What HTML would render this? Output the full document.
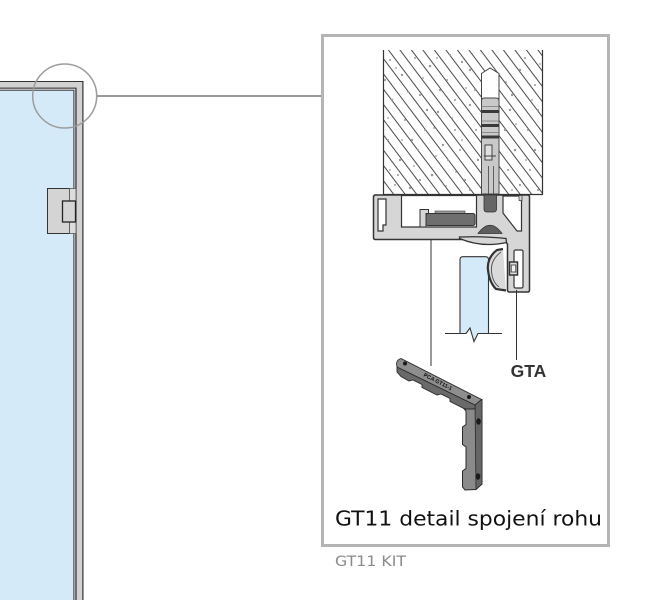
<!DOCTYPE html>
<html><head><meta charset="utf-8">
<style>
html,body{margin:0;padding:0;background:#fff;}
svg{display:block;}
</style></head><body>
<svg width="649" height="600" viewBox="0 0 649 600" xmlns="http://www.w3.org/2000/svg">
<defs>
<pattern id="hatch" width="11.5" height="11.5" patternUnits="userSpaceOnUse" patternTransform="skewX(37)">
<line x1="5.75" y1="-1" x2="5.75" y2="12.5" stroke="#262626" stroke-width="1.05"/>
</pattern>
</defs>

<!-- Door / glass panel on the left -->
<rect x="-10" y="81" width="93.5" height="530" fill="#333"/>
<rect x="-10" y="82" width="92.3" height="530" fill="#d2d2d2"/>
<rect x="-10" y="87.6" width="86.6" height="530" fill="#333"/>
<rect x="-10" y="88.7" width="85.3" height="530" fill="#f2f2f2"/>
<rect x="-10" y="89.7" width="84.4" height="530" fill="#333"/>
<rect x="-10" y="90.7" width="83.4" height="530" fill="#d5eaf9"/>

<!-- Hinge -->
<rect x="47.5" y="188.5" width="22" height="45" fill="#d4d4d4" stroke="#333" stroke-width="1"/>
<rect x="69.5" y="188.5" width="6.5" height="45" fill="#dcdcdc" stroke="#555" stroke-width="0.8"/>
<rect x="62.5" y="201" width="13" height="21" fill="#d4d4d4" stroke="#222" stroke-width="1.3"/>

<!-- Callout circle + connector -->
<circle cx="64.7" cy="96" r="32" fill="none" stroke="#9c9c9c" stroke-width="1.5"/>
<line x1="96.7" y1="96" x2="322" y2="96" stroke="#999" stroke-width="2"/>

<!-- Detail box -->
<rect x="322.5" y="35.5" width="286" height="510" fill="#fff" stroke="#b5b5b5" stroke-width="3"/>

<!-- Concrete block -->
<rect x="383" y="50" width="160" height="144" fill="#fff"/>
<rect x="383" y="50" width="160" height="144" fill="url(#hatch)"/>
<g fill="#999">
<circle cx="390" cy="60" r="1"/><circle cx="402" cy="75" r="1.2"/><circle cx="415" cy="58" r="1"/>
<circle cx="430" cy="66" r="1.3"/><circle cx="447" cy="80" r="1"/><circle cx="462" cy="62" r="1.1"/>
<circle cx="475" cy="90" r="1"/><circle cx="520" cy="70" r="1.2"/><circle cx="535" cy="85" r="1"/>
<circle cx="510" cy="110" r="1.2"/><circle cx="528" cy="130" r="1"/><circle cx="392" cy="100" r="1.3"/>
<circle cx="405" cy="120" r="1"/><circle cx="420" cy="95" r="1.1"/><circle cx="438" cy="112" r="1.2"/>
<circle cx="455" cy="130" r="1"/><circle cx="470" cy="105" r="1.2"/><circle cx="388" cy="140" r="1"/>
<circle cx="400" cy="160" r="1.2"/><circle cx="418" cy="150" r="1"/><circle cx="432" cy="175" r="1.3"/>
<circle cx="448" cy="160" r="1"/><circle cx="465" cy="180" r="1.1"/><circle cx="395" cy="185" r="1"/>
<circle cx="410" cy="188" r="1.2"/><circle cx="425" cy="130" r="1"/><circle cx="443" cy="145" r="1.2"/>
<circle cx="460" cy="150" r="1"/><circle cx="515" cy="150" r="1.3"/><circle cx="530" cy="170" r="1"/>
<circle cx="520" cy="185" r="1.1"/><circle cx="538" cy="110" r="1"/><circle cx="512" cy="95" r="1.2"/>
<circle cx="525" cy="58" r="1"/><circle cx="470" cy="70" r="1.2"/><circle cx="455" cy="100" r="1"/>
<circle cx="440" cy="90" r="1.1"/><circle cx="412" cy="140" r="1.2"/><circle cx="398" cy="175" r="1"/>
<circle cx="385" cy="80" r="1.1"/><circle cx="476" cy="130" r="1"/><circle cx="478" cy="160" r="1.2"/>
<circle cx="508" cy="170" r="1"/><circle cx="535" cy="150" r="1.2"/><circle cx="450" cy="55" r="1"/>
<circle cx="420" cy="180" r="1.1"/><circle cx="470" cy="190" r="1"/><circle cx="505" cy="130" r="1.2"/>
<circle cx="538" cy="190" r="1"/><circle cx="427" cy="110" r="1.2"/>
<circle cx="396" cy="68" r="0.9"/><circle cx="408" cy="92" r="0.9"/><circle cx="423" cy="78" r="0.9"/>
<circle cx="437" cy="58" r="0.9"/><circle cx="452" cy="118" r="0.9"/><circle cx="466" cy="88" r="0.9"/>
<circle cx="506" cy="82" r="0.9"/><circle cx="532" cy="100" r="0.9"/><circle cx="516" cy="124" r="0.9"/>
<circle cx="388" cy="118" r="0.9"/><circle cx="414" cy="166" r="0.9"/><circle cx="436" cy="156" r="0.9"/>
<circle cx="456" cy="172" r="0.9"/><circle cx="390" cy="170" r="0.9"/><circle cx="526" cy="160" r="0.9"/>
<circle cx="512" cy="190" r="0.9"/><circle cx="446" cy="186" r="0.9"/><circle cx="402" cy="140" r="0.9"/>
<circle cx="434" cy="128" r="0.9"/><circle cx="462" cy="140" r="0.9"/><circle cx="540" cy="64" r="0.9"/>
</g>
<path d="M383.5,50 V194.5 H542.5 V50" fill="none" stroke="#333" stroke-width="1.2"/>

<!-- Dowel slot and dowel -->
<path d="M481.5,194 V73.5 L490,68 L499,73.5 V194" fill="#fff" stroke="#444" stroke-width="1"/>
<path d="M481.5,194 V101 Q481.5,98 484.5,98 H496 Q499,98 499,101 V194 Z" fill="#c9c9c9" stroke="#444" stroke-width="0.9"/>
<line x1="481.5" y1="106.5" x2="499" y2="106.5" stroke="#777" stroke-width="0.8"/>
<rect x="481.5" y="110" width="17.5" height="3" fill="#3a3a3a"/>
<line x1="481.5" y1="121" x2="499" y2="121" stroke="#777" stroke-width="0.8"/>
<rect x="481.5" y="124" width="17.5" height="3" fill="#3a3a3a"/>
<line x1="481.5" y1="132.5" x2="499" y2="132.5" stroke="#777" stroke-width="0.8"/>
<rect x="481.5" y="135.5" width="17.5" height="3" fill="#3a3a3a"/>
<rect x="485" y="145" width="7" height="15" fill="#e0e0e0" stroke="#333" stroke-width="0.9"/>
<line x1="484" y1="156" x2="496" y2="156" stroke="#333" stroke-width="0.9"/>
<line x1="488.5" y1="166" x2="488.5" y2="194" stroke="#444" stroke-width="0.8"/>
<line x1="493.5" y1="166" x2="493.5" y2="194" stroke="#444" stroke-width="0.8"/>

<!-- Aluminium profile -->
<path d="M373.5,197 Q373.5,195 375.5,195 H527.5 Q529.5,195 529.5,197 V290 Q529.5,292 527.5,292 H509.5 Q507.5,292 507.5,290 V244 L502,238.5 H470 L466,239.5 H375.5 Q373.5,239.5 373.5,237.5 Z" fill="#d6d6d6" stroke="#333" stroke-width="1.5"/>
<!-- left slot -->
<path d="M378,199 H386 V225 H383 V231 H378 Z" fill="#fff" stroke="#333" stroke-width="1.2"/>
<!-- main cavity -->
<path d="M401.5,195.5 H476.5 V227 H401.5 Z" fill="#fff" stroke="#333" stroke-width="1.2"/>
<path d="M420,227 V209.5 H428.5 V213.5 H426 V227 Z" fill="#d6d6d6" stroke="#333" stroke-width="1"/>
<rect x="435" y="211" width="30" height="3.5" fill="#9a9a9a" stroke="#444" stroke-width="0.6"/>
<rect x="426" y="213.5" width="49" height="12" rx="2" fill="#6f6f6f" stroke="#333" stroke-width="1"/>
<!-- top right cavity -->
<path d="M503,196 H521.5 V231 H517 L503,213 Z" fill="#fff" stroke="#333" stroke-width="1.2"/>
<rect x="519" y="195.5" width="3" height="5" fill="#d6d6d6" stroke="#333" stroke-width="0.7"/>
<!-- dowel end inside profile -->
<path d="M484,195 H496.5 V209 Q496.5,212 493.5,212 H487 Q484,212 484,209 Z" fill="#666" stroke="#333" stroke-width="0.8"/>
<!-- dark dome -->
<path d="M478,233.5 Q490,217 502,233.5 Z" fill="#5e5e5e" stroke="#333" stroke-width="0.8"/>
<!-- fin -->
<path d="M459.5,237 Q484,236 506,238.5 L506.5,242.5 Q482,248 459.5,238.5 Z" fill="#d6d6d6" stroke="#333" stroke-width="1.3"/>
<!-- leg cavity -->
<rect x="514" y="250" width="9" height="38" rx="1.5" fill="#fff" stroke="#333" stroke-width="1.2"/>

<!-- Glass -->
<path d="M460,333.5 V259.5 Q460,256.7 463,256.7 H485.5 Q488.5,256.7 488.5,259.5 V333.5 H478 L474,341.5 L470,328 L466,333.5 Z" fill="#d5eaf9"/>
<path d="M460,333.5 V259.5 Q460,256.7 463,256.7 H485.5 Q488.5,256.7 488.5,259.5 V333.5" fill="none" stroke="#333" stroke-width="1.1"/>
<path d="M445,333.5 H466 L470,328 L474,341.5 L478,333.5 H502" fill="none" stroke="#333" stroke-width="1.1"/>

<!-- Gasket bulb -->
<path d="M503,249 L497,250 C490,255 487,263 488,270 C489,279 492,285 496,289 L506,290.5" fill="#dadada" stroke="#333" stroke-width="2.2"/>
<path d="M501,252 C493,258 491,265 491.5,271 C492,279 495,284 499,287" fill="none" stroke="#555" stroke-width="1"/>
<rect x="509.5" y="262" width="8" height="13" fill="#ddd" stroke="#333" stroke-width="1.5"/>
<rect x="511.2" y="265" width="4.6" height="7" fill="#f0f0f0" stroke="#333" stroke-width="0.8"/>

<!-- Leader lines -->
<line x1="431" y1="239.5" x2="431" y2="366" stroke="#333" stroke-width="1"/>
<line x1="516.5" y1="290" x2="516.5" y2="360" stroke="#333" stroke-width="1"/>

<text x="528.5" y="377" font-family="Liberation Sans, Arial, sans-serif" font-weight="bold" font-size="17.5" text-anchor="middle" fill="#333">GTA</text>

<!-- L corner bracket: vertical arm -->
<path d="M462.5,407 L475,403 L482,399.5 L482,484 L476,489.5 L465,490 L462.5,487 V471 L466,468.5 V447 L462.5,444.5 V427 L466,424.5 V411 Z" fill="#8a8a8a" stroke="#2a2a2a" stroke-width="1"/>
<path d="M475,403 L482,399.5 L482,484 L476,489.5 Z" fill="#666" stroke="#2a2a2a" stroke-width="0.8"/>
<ellipse cx="478.5" cy="421.5" rx="2.3" ry="3.2" fill="#1a1a1a"/>
<ellipse cx="478" cy="476.5" rx="2.3" ry="3.2" fill="#1a1a1a"/>
<!-- horizontal arm -->
<path d="M397,367 L475,405 L475,409 L465,409 L450,401.5 L450,398.5 L441,394 L437,395 L422,387.5 L422,384.5 L413,380 L409,381 L401,376.5 L397,372 Z" fill="#6a6a6a" stroke="#2a2a2a" stroke-width="0.9"/>
<path d="M396.5,363.5 Q397,359.5 401,358.5 L481.5,399.5 L475,405 L397,367 Z" fill="#8e8e8e" stroke="#2a2a2a" stroke-width="0.9"/>
<circle cx="405" cy="363.5" r="2" fill="#1a1a1a"/>
<circle cx="469" cy="397" r="2" fill="#1a1a1a"/>
<text x="438" y="383.5" font-family="Liberation Sans, Arial, sans-serif" font-weight="bold" font-size="5.5" fill="#111" text-anchor="middle" transform="rotate(27 438 381.5)">PCA GT11-1</text>

<!-- Captions -->
<text x="335" y="525.5" font-family="DejaVu Sans, Verdana, sans-serif" font-size="20.5" textLength="267" lengthAdjust="spacingAndGlyphs" fill="#111">GT11 detail spojení rohu</text>
<text x="335" y="566" font-family="DejaVu Sans, Verdana, sans-serif" font-size="14.5" textLength="71" lengthAdjust="spacingAndGlyphs" fill="#8a8a8a">GT11 KIT</text>
</svg>
</body></html>
